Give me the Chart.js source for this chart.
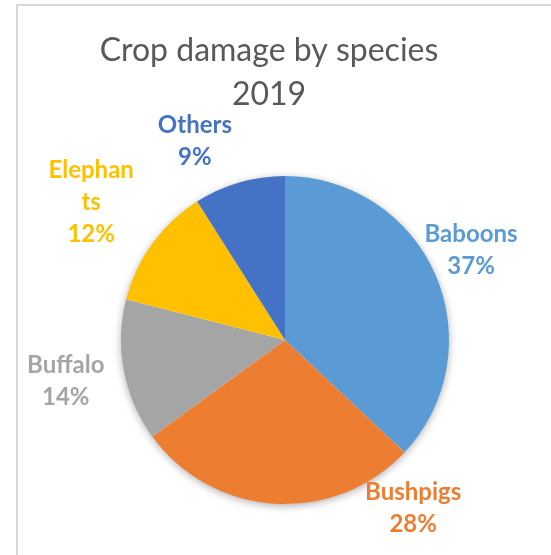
<!DOCTYPE html>
<html>
<head>
<meta charset="utf-8">
<script src="https://cdn.jsdelivr.net/npm/chart.js@4"></script>
<style>
  html, body { margin: 0; padding: 0; background: #fff; overflow: hidden; }
  #wrap { position: relative; width: 551px; height: 555px; }
  #frame {
    position: absolute; left: 16px; top: 4px; width: 700px; height: 700px;
    border-left: 2px solid #d9d9d9; border-top: 2px solid #d9d9d9;
  }
  #chart { position: absolute; left: 0; top: 0; }
</style>
</head>
<body>
<div id="wrap">
  <div id="frame"></div>
  <canvas id="chart" width="551" height="555"></canvas>
</div>
<script>
const titleLines = ['Crop damage by species', '2019'];
const species = ['Baboons', 'Bushpigs', 'Buffalo', 'Elephants', 'Others'];
const damage = [37, 28, 14, 12, 9];
const colours = ['#5B9BD5', '#ED7D31', '#A5A5A5', '#FFC000', '#4472C4'];

// label placement: angle in degrees clockwise from top, distance as a multiple of the radius
const labelSpots = [
    { angle: 64.2, dist: 1.26 },
    { angle: 142.7, dist: 1.29 },
    { angle: 259.4, dist: 1.36 },
    { angle: 305.4, dist: 1.45 },
    { angle: 335.6, dist: 1.33 }
];
// Excel broke this one across lines
const labelWrap = { 3: ['Elephan', 'ts'] };

const pieExtras = {
    id: 'pieExtras',
    beforeDatasetsDraw(chart) {
        const arc = chart.getDatasetMeta(0).data[0];
        if (!arc) return;
        const ctx = chart.ctx;
        ctx.save();
        ctx.shadowColor = 'rgba(0,0,0,0.35)';
        ctx.shadowBlur = 9;
        ctx.shadowOffsetY = 2;
        ctx.fillStyle = '#ffffff';
        ctx.beginPath();
        ctx.arc(arc.x, arc.y, arc.outerRadius - 0.5, 0, Math.PI * 2);
        ctx.fill();
        ctx.restore();
    },
    afterDatasetsDraw(chart) {
        const ctx = chart.ctx;
        const meta = chart.getDatasetMeta(0);
        const total = damage.reduce((a, b) => a + b, 0);
        ctx.save();
        ctx.textAlign = 'center';
        ctx.textBaseline = 'middle';

        // title
        ctx.fillStyle = '#595959';
        ctx.font = '32px Lato';
        titleLines.forEach((t, i) => ctx.fillText(t, 269, 51 + i * 44));

        // data labels
        ctx.font = 'bold 24px Lato';
        meta.data.forEach((arc, i) => {
            const spot = labelSpots[i];
            const a = spot.angle * Math.PI / 180;
            const cx = arc.x + Math.sin(a) * arc.outerRadius * spot.dist;
            const cy = arc.y - Math.cos(a) * arc.outerRadius * spot.dist;
            const pct = Math.round(damage[i] / total * 100) + '%';
            const lines = (labelWrap[i] || [species[i]]).concat([pct]);
            const lh = 32;
            const top = cy - (lines.length - 1) * lh / 2;
            ctx.fillStyle = colours[i];
            lines.forEach((l, j) => ctx.fillText(l, cx, top + j * lh));
        });
        ctx.restore();
    }
};

const ctx = document.getElementById('chart').getContext('2d');
const chart = new Chart(ctx, {
    type: 'pie',
    data: {
        labels: species,
        datasets: [{
            data: damage,
            backgroundColor: colours,
            borderWidth: 0
        }]
    },
    options: {
        responsive: false,
        animation: false,
        layout: {
            padding: { left: 121, right: 102, top: 176, bottom: 51 }
        },
        plugins: {
            legend: { display: false },
            title: { display: false },
            tooltip: { enabled: false }
        }
    },
    plugins: [pieExtras]
});
</script>
</body>
</html>
